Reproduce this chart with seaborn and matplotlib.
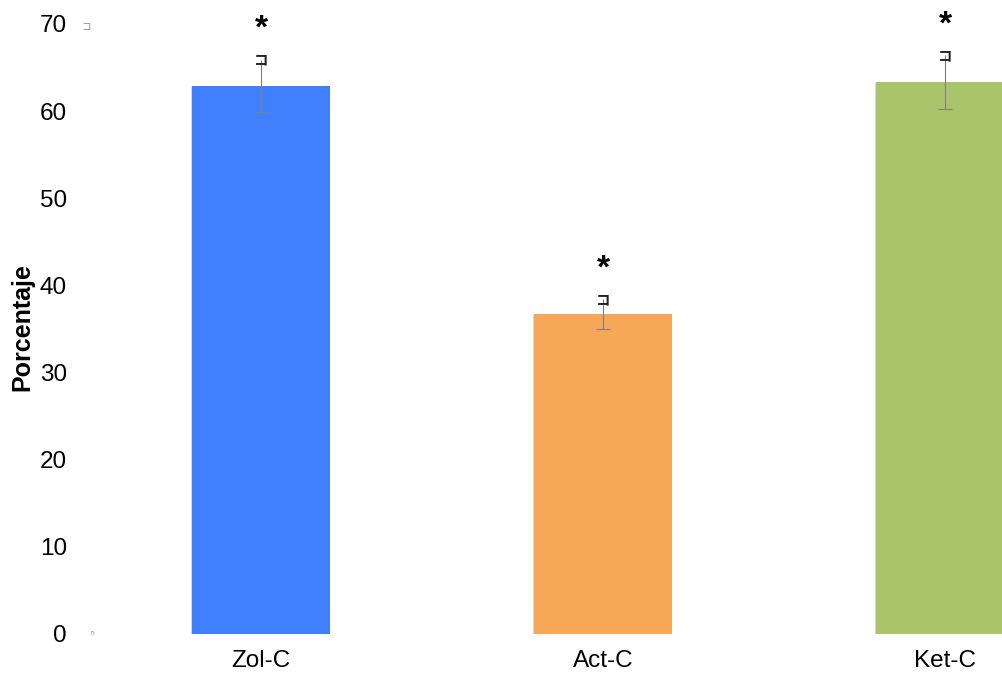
import matplotlib
matplotlib.use("Agg")
import matplotlib.pyplot as plt
import matplotlib.patheffects as pe
import seaborn as sns

# Data
categories = ["Zol-C", "Act-C", "Ket-C"]
means = [62.9, 36.7, 63.3]
errors = [3.0, 1.7, 3.1]
marks = ["*", "*", "*"]
bar_colors = ["#4080FF", "#F7A758", "#A9C46B"]
yticks = [0, 10, 20, 30, 40, 50, 60, 70]

sns.set_theme(style="white")
plt.rcParams["font.family"] = ["Liberation Sans", "DejaVu Sans"]

fig = plt.figure(figsize=(10.02, 6.75), dpi=100)
ax = fig.add_axes([90 / 1002, 41 / 675, 1 - 90 / 1002, 634 / 675])

sns.barplot(x=categories, y=means, hue=categories, palette=bar_colors,
            width=0.404, legend=False, saturation=1, linewidth=0, ax=ax)

# soft drop shadow around each bar
for patch in ax.patches:
    patch.set_path_effects([
        pe.SimplePatchShadow(offset=(-0.5, -0.7), shadow_rgbFace="#8a8a8a", alpha=0.35),
        pe.Normal(),
    ])

# error bars: bottom cap drawn as a line, top end marked with a bracket glyph
xpos = list(range(len(categories)))
_, caps, _ = ax.errorbar(xpos, means, yerr=[errors, errors], fmt="none",
                         ecolor="#7f7f7f", elinewidth=0.8, capsize=5, capthick=0.8)
caps[1].set_visible(False)
for x, m, e in zip(xpos, means, errors):
    ax.text(x, m + e, "コ", ha="center", va="center", fontsize=10.5,
            fontweight="bold", color="#222222",
            family=["Noto Sans CJK JP", "DejaVu Sans"])

# significance marks
for x, m, e, s in zip(xpos, means, errors, marks):
    ax.text(x, m + e + 2.5, s, ha="center", va="baseline", fontsize=24,
            fontweight="bold", color="black")

ax.set_xlim(-0.5, 2 + 57 / 342)
ax.set_ylim(0, 634 / (610 / 70))
ax.set_yticks(yticks)
ax.set_yticklabels([str(t) for t in yticks])
ax.tick_params(axis="y", length=0, pad=16.5, labelsize=17.5, colors="black")
ax.tick_params(axis="x", length=0, pad=11.5, labelsize=17.5, colors="black")
for sp in ax.spines.values():
    sp.set_visible(False)
ax.grid(False)

ax.set_ylabel("Porcentaje", fontsize=18, fontweight="bold", color="black",
              va="center")
ax.yaxis.set_label_coords((22 - 90) / 912, (634 - 327) / 634)

# small axis glyphs beside the top and bottom ticks
fig.text(86 / 1002, 1 - 27 / 675, "コ", ha="center", va="center", fontsize=7,
         color="#8a8a8a", family=["Noto Sans CJK JP", "DejaVu Sans"])
fig.text(92 / 1002, 1 - 633 / 675, "∩", ha="center", va="center", fontsize=5,
         color="#8a8a8a", family=["DejaVu Sans"])

fig.savefig("out.png", dpi=100)
